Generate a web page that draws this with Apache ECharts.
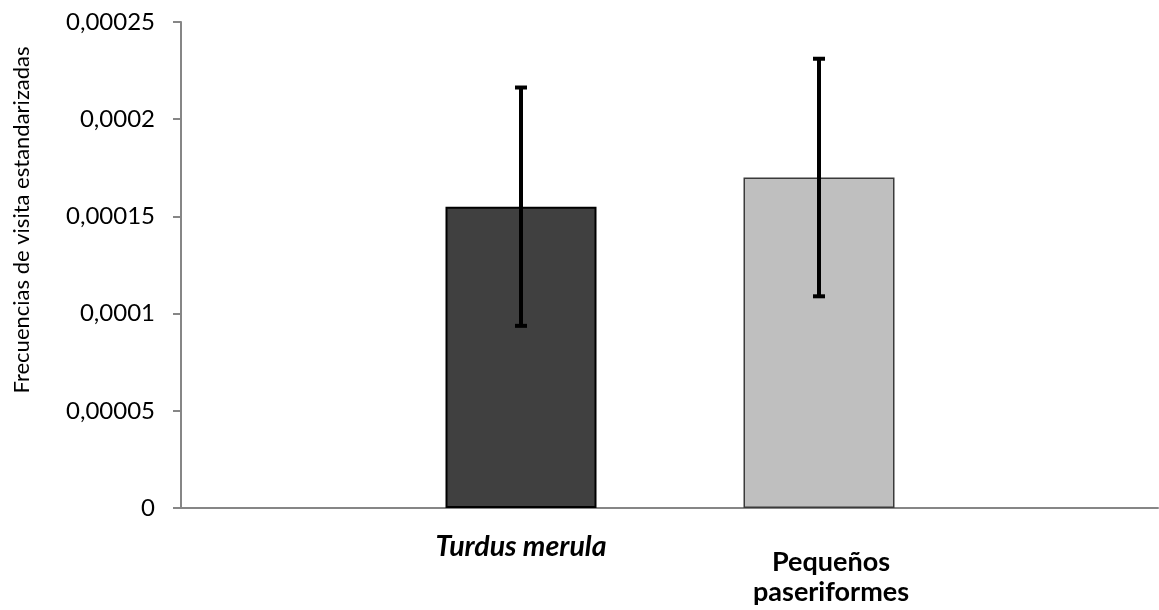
<!DOCTYPE html>
<html>
<head>
<meta charset="utf-8">
<script src="https://cdn.jsdelivr.net/npm/echarts@6/dist/echarts.min.js"></script>
<style>
  html, body { margin: 0; padding: 0; background: #ffffff; }
  #chart { width: 1159px; height: 610px; }
</style>
</head>
<body>
<div id="chart"></div>
<script>
// Visit frequencies (standardised) per bird group, with error bars
const categories = ['Turdus merula', 'Pequeños paseriformes'];
const means = [0.000155, 0.00017];
const errors = [0.0000613, 0.0000611];
const barColors = ['#404040', '#BFBFBF'];
const barBorders = ['#000000', '#3a3a3a'];
const yMin = 0;
const yMax = 0.00025;
const yStep = 0.00005;
const yTitle = 'Frecuencias de visita estandarizadas';

const FONT = 'Lato, "Open Sans", sans-serif';

const chart = echarts.init(document.getElementById('chart'), null, { renderer: 'canvas' });

const fmt = v => String(Number(v.toPrecision(6))).replace('.', ',');

const catStyle = { fontFamily: FONT, fontSize: 27, fontWeight: 'bold', color: '#000', lineHeight: 30 };

const option = {
  animation: false,
  backgroundColor: '#ffffff',
  grid: [
    // frame grid: carries the y axis and the full-width baseline
    { left: 181, right: 1, top: 22, bottom: 102 },
    // bar grid: two category slots centred under the frame
    { left: 372, width: 596, top: 22, bottom: 102 }
  ],
  xAxis: [
    {
      gridIndex: 0, type: 'value', min: 0, max: 1,
      axisLine: { show: true, onZero: false, lineStyle: { color: '#868686', width: 2 } },
      axisTick: { show: false }, axisLabel: { show: false }, splitLine: { show: false }
    },
    {
      gridIndex: 1, type: 'category', data: categories,
      axisLine: { show: false }, axisTick: { show: false }, splitLine: { show: false },
      axisLabel: {
        margin: 24,
        interval: 0,
        verticalAlign: 'top',
        lineHeight: 30,
        formatter: (v, i) => {
          if (i === 0) return '{it|' + v + '}';
          const words = v.split(' ');
          // wrapped label sits a little lower, as a two-line block
          return '{sp| }\n{b|' + words[0] + '}\n{b|' + words.slice(1).join(' ') + '}';
        },
        rich: {
          it: Object.assign({}, catStyle, { fontSize: 28.5, fontStyle: 'italic' }),
          sp: { fontSize: 4, lineHeight: 15 },
          b: Object.assign({}, catStyle, { padding: [0, 0, 0, 24] })
        }
      }
    }
  ],
  yAxis: [
    {
      gridIndex: 0, type: 'value', min: yMin, max: yMax, interval: yStep,
      axisLine: { show: true, lineStyle: { color: '#868686', width: 2 } },
      axisTick: { show: true, length: 8, lineStyle: { color: '#868686', width: 2 } },
      splitLine: { show: false },
      axisLabel: {
        margin: 26,
        fontFamily: FONT, fontSize: 24, color: '#000',
        formatter: fmt
      }
    },
    {
      gridIndex: 1, type: 'value', min: yMin, max: yMax, interval: yStep, show: false,
      splitLine: { show: false }
    }
  ],
  graphic: [
    {
      type: 'text',
      x: 22, y: 220,
      rotation: Math.PI / 2,
      style: {
        text: yTitle,
        fontFamily: FONT, fontSize: 22, fill: '#000',
        textAlign: 'center', textVerticalAlign: 'middle'
      }
    }
  ],
  series: [
    {
      type: 'bar',
      xAxisIndex: 1, yAxisIndex: 1,
      barWidth: 151,
      data: means.map((v, i) => ({
        value: v,
        itemStyle: { color: barColors[i], borderColor: barBorders[i], borderWidth: i === 0 ? 2 : 1.5 }
      }))
    },
    {
      type: 'custom',
      xAxisIndex: 1, yAxisIndex: 1,
      z: 5,
      data: means.map((m, i) => [i, m - errors[i], m + errors[i]]),
      renderItem: (params, api) => {
        const lo = api.coord([api.value(0), api.value(1)]);
        const hi = api.coord([api.value(0), api.value(2)]);
        const cap = 6;
        const style = { stroke: '#000', lineWidth: 4, fill: null };
        return {
          type: 'group',
          children: [
            { type: 'line', shape: { x1: lo[0], y1: lo[1], x2: hi[0], y2: hi[1] }, style },
            { type: 'line', shape: { x1: hi[0] - cap, y1: hi[1], x2: hi[0] + cap, y2: hi[1] }, style },
            { type: 'line', shape: { x1: lo[0] - cap, y1: lo[1], x2: lo[0] + cap, y2: lo[1] }, style }
          ]
        };
      }
    }
  ]
};

chart.setOption(option);
</script>
</body>
</html>
